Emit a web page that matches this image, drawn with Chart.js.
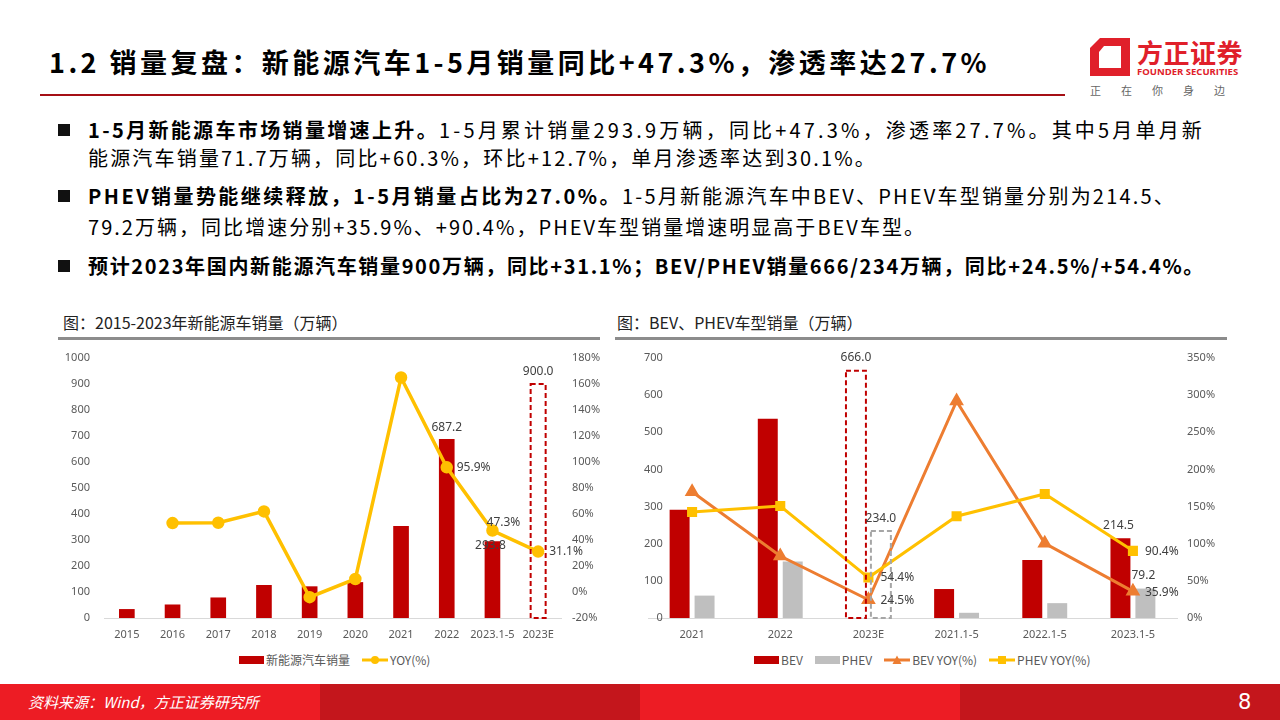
<!DOCTYPE html>
<html>
<head>
<meta charset="utf-8">
<script src="https://cdn.jsdelivr.net/npm/chart.js@4.4.0/dist/chart.umd.min.js"></script>
<style>
  body { margin: 0; width: 1280px; height: 720px; position: relative; overflow: hidden; background: #fff; font-family: "Noto Sans CJK SC", sans-serif; color: #000; }
  .abs { position: absolute; }
  #title { left: 49px; top: 44px; font-size: 27px; font-weight: 700; white-space: nowrap; line-height: 36px; }
  #titleLine { left: 40px; top: 94px; width: 1025px; height: 2px; background: #A50F15; }
  .logoName { left: 1137px; top: 35px; font-size: 26px; font-weight: 700; color: #E0202A; letter-spacing: 0.5px; line-height: 34px; }
  .logoEn { left: 1137px; top: 66px; font-size: 9.5px; font-weight: 700; color: #E0202A; font-family: "Open Sans", sans-serif; line-height: 12px; }
  .logoSub { left: 1090px; top: 82px; font-size: 11px; color: #666; letter-spacing: 20px; line-height: 16px; }
  .bullet { left: 58px; width: 12px; height: 12px; background: #111; }
  .line { left: 88px; font-size: 20px; white-space: nowrap; line-height: 26px; }
  .line b { font-weight: 700; }
  .fit { display: inline-block; }
  .figTitle { font-size: 16px; color: #222; white-space: nowrap; line-height: 22px; }
  .figLine { height: 3px; background: #8C8C8C; }
  .legend { top: 651px; display: flex; align-items: center; font-family: "Noto Sans CJK SC", sans-serif; font-size: 12px; color: #595959; white-space: nowrap; }
  .legend span.item { display: flex; align-items: center; margin-right: 12px; }
  .legend svg { margin-right: 2px; }
  #footer { left: 0; top: 684px; width: 1280px; height: 36px; display: flex; }
  #footer div { width: 320px; height: 36px; }
  #source { left: 28px; top: 692px; color: #fff; font-style: italic; font-size: 15px; line-height: 20px; }
  #pageNo { left: 1238px; top: 688px; color: #fff; font-size: 21px; line-height: 28px; font-family: "Liberation Sans Narrow", "DejaVu Sans", sans-serif; }
</style>
</head>
<body>

<div id="title" class="abs"><span class="fit" data-w="941">1.2 销量复盘：新能源汽车1-5月销量同比+47.3%，渗透率达27.7%</span></div>
<div id="titleLine" class="abs"></div>

<svg class="abs" style="left:1090px;top:38px" width="40" height="38" viewBox="0 0 40 38">
  <polygon points="10,0 40,0 40,38 0,38 0,10" fill="#E0202A"/>
  <polygon points="14,8 31,8 31,30 9,30 9,14" fill="#fff"/>
</svg>
<div class="abs logoName">方正证券</div>
<div class="abs logoEn">FOUNDER SECURITIES</div>
<div class="abs logoSub">正在你身边</div>

<div class="abs bullet" style="top:124px"></div>
<div class="abs line" style="top:117px"><b class="fit" data-w="351">1-5月新能源车市场销量增速上升。</b><span class="fit" data-w="766">1-5月累计销量293.9万辆，同比+47.3%，渗透率27.7%。其中5月单月新</span></div>
<div class="abs line" style="top:145px"><span class="fit" data-w="789">能源汽车销量71.7万辆，同比+60.3%，环比+12.7%，单月渗透率达到30.1%。</span></div>
<div class="abs bullet" style="top:190px"></div>
<div class="abs line" style="top:183px"><b class="fit" data-w="534">PHEV销量势能继续释放，1-5月销量占比为27.0%。</b><span class="fit" data-w="554">1-5月新能源汽车中BEV、PHEV车型销量分别为214.5、</span></div>
<div class="abs line" style="top:214px"><span class="fit" data-w="838">79.2万辆，同比增速分别+35.9%、+90.4%，PHEV车型销量增速明显高于BEV车型。</span></div>
<div class="abs bullet" style="top:260px"></div>
<div class="abs line" style="top:253px"><b class="fit" data-w="1117">预计2023年国内新能源汽车销量900万辆，同比+31.1%；BEV/PHEV销量666/234万辆，同比+24.5%/+54.4%。</b></div>

<div class="abs figTitle" style="left:63px;top:311px">图：2015-2023年新能源车销量（万辆）</div>
<div class="abs figLine" style="left:58px;top:337px;width:542px"></div>
<div class="abs figTitle" style="left:617px;top:311px">图：BEV、PHEV车型销量（万辆）</div>
<div class="abs figLine" style="left:615px;top:337px;width:612px"></div>

<canvas id="leftChart" class="abs" style="left:60px;top:345px" width="555" height="300"></canvas>
<canvas id="rightChart" class="abs" style="left:615px;top:345px" width="625" height="300"></canvas>

<div id="leftLegend" class="abs legend" style="left:239px"></div>
<div id="rightLegend" class="abs legend" style="left:754px"></div>

<div id="footer" class="abs">
  <div style="background:#ED1C24"></div>
  <div style="background:#C4161C"></div>
  <div style="background:#ED1C24"></div>
  <div style="background:#C4161C"></div>
</div>
<div id="source" class="abs">资料来源：Wind，方正证券研究所</div>
<div id="pageNo" class="abs">8</div>

<script>
// chart data
const years = ['2015', '2016', '2017', '2018', '2019', '2020', '2021', '2022', '2023.1-5', '2023E'];
const nevSales = [33.1, 50.7, 77.7, 125.6, 120.6, 136.7, 352.1, 687.2, 293.8, 900.0];
const nevYoy = [null, 53.0, 53.3, 62.0, -4.0, 10.0, 165.0, 95.9, 47.3, 31.1];

const periods = ['2021', '2022', '2023E', '2021.1-5', '2022.1-5', '2023.1-5'];
const bevSales = [291.6, 536.5, 666.0, 78.0, 156.0, 214.5];
const phevSales = [60.3, 151.8, 234.0, 14.0, 40.0, 79.2];
const bevYoy = [170.0, 83.5, 24.5, 292.0, 100.5, 35.9];
const phevYoy = [142.7, 150.8, 54.4, 137.0, 167.0, 90.4];

const leftTicks = [0, 1000, 100];
const leftPctTicks = [-20, 180, 20];
const rightTicks = [0, 700, 100];
const rightPctTicks = [0, 350, 50];

const RED = '#C00000', GRAY = '#BFBFBF', YELLOW = '#FFC000', ORANGE = '#ED7D31';
const tickFont = { family: '"Noto Sans", sans-serif', size: 11 };
const tickColor = '#595959';

// stretch text runs to the widths they take in the slide
document.querySelectorAll('.fit').forEach(el => {
  const w = el.getBoundingClientRect().width;
  const n = el.textContent.length;
  el.style.letterSpacing = ((+el.dataset.w - w) / n) + 'px';
});

// dashed outline for the estimate bars
const dashedBars = {
  id: 'dashedBars',
  afterDatasetsDraw(chart, args, opts) {
    const ctx = chart.ctx;
    ctx.save();
    opts.items.forEach(it => {
      const el = chart.getDatasetMeta(it.ds).data[it.i];
      ctx.setLineDash([5, 3]);
      ctx.lineWidth = 2;
      ctx.strokeStyle = it.color;
      ctx.strokeRect(el.x - el.width / 2, el.y, el.width, el.base - el.y);
    });
    ctx.restore();
  }
};

// value labels placed from the element positions
const valueLabels = {
  id: 'valueLabels',
  afterDatasetsDraw(chart, args, opts) {
    const ctx = chart.ctx;
    ctx.save();
    ctx.font = '12px "Noto Sans", sans-serif';
    ctx.fillStyle = '#404040';
    ctx.textBaseline = 'middle';
    opts.items.forEach(it => {
      const el = chart.getDatasetMeta(it.ds).data[it.i];
      const v = chart.data.datasets[it.ds].data[it.i];
      ctx.textAlign = it.align;
      ctx.fillText(v.toFixed(1) + (it.pct ? '%' : ''), el.x + it.dx, el.y + it.dy);
    });
    ctx.restore();
  }
};

function axisY(pos, range, width, pad, pct, mirror) {
  return {
    position: pos, min: range[0], max: range[1],
    grid: { display: false, drawTicks: false }, border: { display: false },
    ticks: { stepSize: range[2], padding: pad, color: tickColor, font: tickFont, mirror: !!mirror,
             crossAlign: mirror ? 'far' : 'near',
             callback: v => pct ? v + '%' : v },
    afterFit: s => { s.width = width; s.paddingTop = 0; s.paddingBottom = 0; }
  };
}

const xAxis = {
  grid: { display: false, drawTicks: false }, border: { color: '#D9D9D9', width: 1 },
  ticks: { padding: 10, color: tickColor, font: tickFont, maxRotation: 0, autoSkip: false },
  afterFit: s => { s.height = 27; }
};

new Chart(document.getElementById('leftChart'), {
  data: {
    labels: years,
    datasets: [
      { type: 'line', label: 'YOY(%)', data: nevYoy, yAxisID: 'y1', borderColor: YELLOW, backgroundColor: YELLOW,
        borderWidth: 3.5, pointRadius: 4.5, pointStyle: 'circle', order: 0 },
      { type: 'bar', label: '新能源汽车销量', data: nevSales, yAxisID: 'y',
        backgroundColor: years.map(y => y === '2023E' ? 'rgba(0,0,0,0)' : RED), barThickness: 15, order: 1 }
    ]
  },
  options: {
    responsive: false, animation: false,
    layout: { padding: { top: 13 } },
    plugins: {
      legend: { display: false }, tooltip: { enabled: false },
      dashedBars: { items: [{ ds: 1, i: 9, color: RED }] },
      valueLabels: { items: [
        { ds: 1, i: 7, align: 'center', dx: 0, dy: -12 },
        { ds: 1, i: 9, align: 'center', dx: 0, dy: -12 },
        { ds: 1, i: 8, align: 'center', dx: -2, dy: 4 },
        { ds: 0, i: 7, align: 'left', dx: 10, dy: 0, pct: true },
        { ds: 0, i: 8, align: 'center', dx: 11, dy: -8, pct: true },
        { ds: 0, i: 9, align: 'left', dx: 11, dy: 0, pct: true }
      ] }
    },
    scales: {
      x: xAxis,
      y: axisY('left', leftTicks, 44, 14, false),
      y1: axisY('right', leftPctTicks, 54, 11, true)
    }
  },
  plugins: [dashedBars, valueLabels]
});

new Chart(document.getElementById('rightChart'), {
  data: {
    labels: periods,
    datasets: [
      { type: 'line', label: 'PHEV YOY(%)', data: phevYoy, yAxisID: 'y1', borderColor: YELLOW, backgroundColor: YELLOW,
        borderWidth: 3, pointRadius: 5, pointStyle: 'rect', order: 0 },
      { type: 'line', label: 'BEV YOY(%)', data: bevYoy, yAxisID: 'y1', borderColor: ORANGE, backgroundColor: ORANGE,
        borderWidth: 3, pointRadius: 5.5, pointStyle: 'triangle', order: 1 },
      { type: 'bar', label: 'BEV', data: bevSales, yAxisID: 'y',
        backgroundColor: periods.map(p => p === '2023E' ? 'rgba(0,0,0,0)' : RED),
        categoryPercentage: 0.566, barPercentage: 0.8, order: 2 },
      { type: 'bar', label: 'PHEV', data: phevSales, yAxisID: 'y',
        backgroundColor: periods.map(p => p === '2023E' ? 'rgba(0,0,0,0)' : GRAY),
        categoryPercentage: 0.566, barPercentage: 0.8, order: 2 }
    ]
  },
  options: {
    responsive: false, animation: false,
    layout: { padding: { top: 13 } },
    plugins: {
      legend: { display: false }, tooltip: { enabled: false },
      dashedBars: { items: [{ ds: 2, i: 2, color: RED }, { ds: 3, i: 2, color: '#A6A6A6' }] },
      valueLabels: { items: [
        { ds: 2, i: 2, align: 'center', dx: 0, dy: -13 },
        { ds: 3, i: 2, align: 'center', dx: 0, dy: -13 },
        { ds: 2, i: 5, align: 'center', dx: -2, dy: -13 },
        { ds: 3, i: 5, align: 'center', dx: -2, dy: -13 },
        { ds: 0, i: 2, align: 'left', dx: 12, dy: 0, pct: true },
        { ds: 1, i: 2, align: 'left', dx: 12, dy: 1, pct: true },
        { ds: 0, i: 5, align: 'left', dx: 12, dy: 1, pct: true },
        { ds: 1, i: 5, align: 'left', dx: 12, dy: 1, pct: true }
      ] }
    },
    scales: {
      x: xAxis,
      y: axisY('left', rightTicks, 33, -4, false, true),
      y1: axisY('right', rightPctTicks, 63, 10, true)
    }
  },
  plugins: [dashedBars, valueLabels]
});

// legends
function rectIcon(color) {
  return `<svg width="25" height="8"><rect x="0" y="0" width="25" height="8" fill="${color}"/></svg>`;
}
function lineIcon(color, marker) {
  let m = '';
  if (marker === 'circle') m = `<circle cx="13" cy="5" r="4" fill="${color}"/>`;
  if (marker === 'rect') m = `<rect x="9" y="1" width="8" height="8" fill="${color}"/>`;
  if (marker === 'triangle') m = `<polygon points="13,0.5 17.5,9 8.5,9" fill="${color}"/>`;
  return `<svg width="26" height="10"><line x1="0" y1="5" x2="26" y2="5" stroke="${color}" stroke-width="3"/>${m}</svg>`;
}
function item(icon, text) {
  return `<span class="item">${icon}${text}</span>`;
}
document.getElementById('leftLegend').innerHTML =
  item(rectIcon(RED), '新能源汽车销量') + item(lineIcon(YELLOW, 'circle'), 'YOY(%)');
document.getElementById('rightLegend').innerHTML =
  item(rectIcon(RED), 'BEV') + item(rectIcon(GRAY), 'PHEV') +
  item(lineIcon(ORANGE, 'triangle'), 'BEV YOY(%)') + item(lineIcon(YELLOW, 'rect'), 'PHEV YOY(%)');
</script>
</body>
</html>
